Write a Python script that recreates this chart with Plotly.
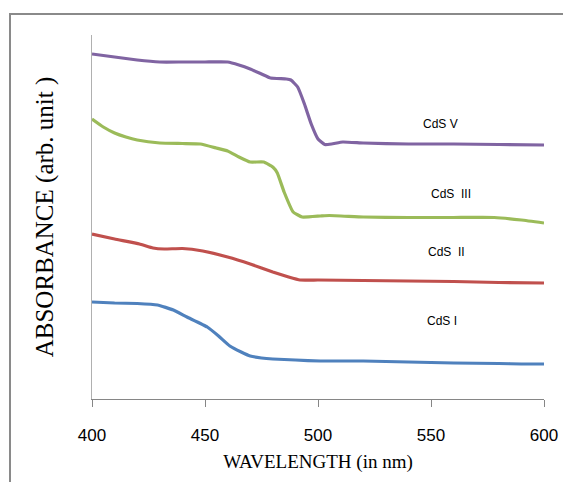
import plotly.graph_objects as go

wl_v = [400, 410, 420, 430, 440, 450, 460, 465, 470, 475, 479, 486, 488, 491, 494, 497, 500, 503, 506, 511, 520, 540, 560, 580, 600]
abs_v = [3.45, 3.42, 3.39, 3.37, 3.37, 3.37, 3.37, 3.34, 3.30, 3.25, 3.21, 3.20, 3.19, 3.12, 2.95, 2.75, 2.60, 2.545, 2.55, 2.57, 2.56, 2.55, 2.55, 2.545, 2.54]

wl_iii = [400, 405, 410, 415, 420, 430, 440, 448, 455, 460, 465, 470, 476, 480, 482, 485, 489, 493, 501, 505, 520, 540, 560, 578, 590, 600]
abs_iii = [2.80, 2.72, 2.66, 2.62, 2.59, 2.56, 2.555, 2.55, 2.51, 2.48, 2.42, 2.37, 2.37, 2.32, 2.26, 2.07, 1.87, 1.82, 1.83, 1.835, 1.82, 1.815, 1.815, 1.815, 1.79, 1.76]

wl_ii = [400, 410, 421, 427, 432, 440, 449, 460, 470, 480, 487, 492, 500, 520, 540, 560, 580, 600]
abs_ii = [1.65, 1.60, 1.55, 1.51, 1.50, 1.505, 1.48, 1.42, 1.35, 1.27, 1.22, 1.19, 1.19, 1.185, 1.18, 1.175, 1.165, 1.16]

wl_i = [400, 410, 420, 429, 436, 442, 451, 456, 461, 466, 470, 475, 480, 490, 501, 520, 540, 560, 580, 590, 600]
abs_i = [0.97, 0.96, 0.955, 0.94, 0.89, 0.82, 0.72, 0.63, 0.53, 0.47, 0.43, 0.41, 0.40, 0.39, 0.38, 0.38, 0.37, 0.36, 0.355, 0.35, 0.35]

series_names = ["CdS V", "CdS  III", "CdS  II", "CdS I"]
series_colors = ["#8064A2", "#9BBB59", "#C0504D", "#4F81BD"]
label_x = [554, 559, 557, 555]
label_y = [2.75, 2.05, 1.47, 0.78]

x_ticks = [400, 450, 500, 550, 600]

fig = go.Figure()
for wl, ab, name, col in zip([wl_v, wl_iii, wl_ii, wl_i], [abs_v, abs_iii, abs_ii, abs_i], series_names, series_colors):
    fig.add_trace(go.Scatter(x=wl, y=ab, mode="lines", name=name,
                             line=dict(color=col, width=3.2, shape="spline", smoothing=0.35)))

for name, lx, ly in zip(series_names, label_x, label_y):
    fig.add_annotation(x=lx, y=ly, text=name, showarrow=False,
                       font=dict(family="Liberation Sans Narrow, Arial Narrow, sans-serif", size=12, color="#000"))

fig.add_shape(type="rect", xref="paper", yref="paper", x0=-0.1814, y0=-0.4, x1=1.2, y1=1.0577,
              line=dict(color="#8a8a8a", width=2), fillcolor="rgba(0,0,0,0)", layer="below")

fig.update_layout(
    width=571, height=482,
    margin=dict(l=84, r=35, t=27, b=91),
    paper_bgcolor="white", plot_bgcolor="white",
    showlegend=False,
    xaxis=dict(range=[400, 600], tickvals=x_ticks, ticktext=[str(t) for t in x_ticks],
               showgrid=False, zeroline=False, showline=True, linecolor="#868686", linewidth=1,
               ticks="outside", ticklen=7, tickcolor="#868686", ticklabelstandoff=14,
               tickfont=dict(family="Liberation Sans Narrow, Arial Narrow, sans-serif", size=17, color="#000"),
               title=dict(text="WAVELENGTH (in nm)", standoff=10,
                          font=dict(family="Liberation Serif, Times New Roman, serif", size=19, color="#000"))),
    yaxis=dict(range=[0, 3.64], showticklabels=False, showgrid=False, zeroline=False,
               showline=True, linecolor="#b0b0b0", linewidth=1, ticks="",
               title=dict(text="ABSORBANCE (arb. unit )", standoff=30,
                          font=dict(family="Liberation Serif, Times New Roman, serif", size=25, color="#000"))),
)

fig.write_html("out.html")
